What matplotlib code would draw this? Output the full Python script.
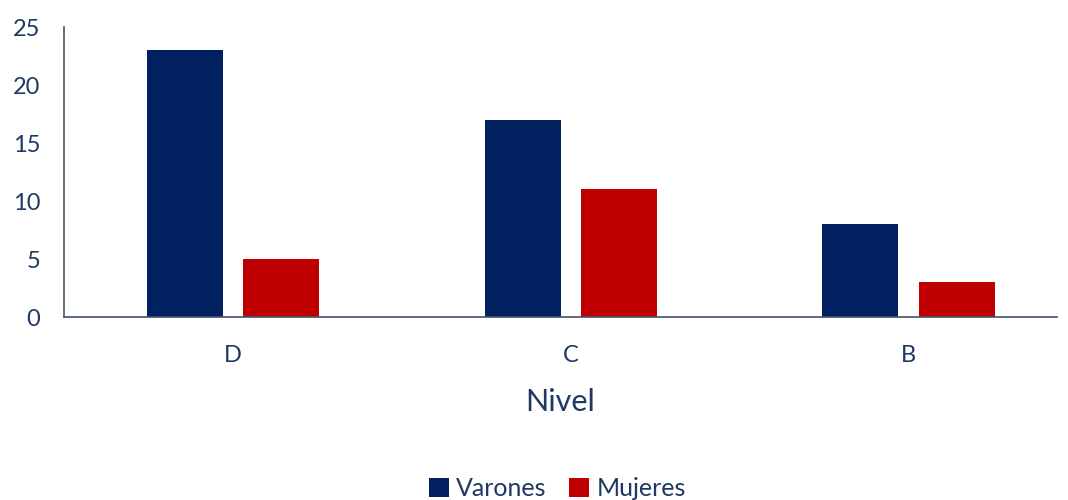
import numpy as np
import matplotlib.pyplot as plt

niveles = ['D', 'C', 'B']
varones = [23, 17, 8]
mujeres = [5, 11, 3]

azul = '#002060'
rojo = '#C00000'
texto = '#1F3864'

plt.rcParams['font.family'] = ['Lato', 'DejaVu Sans']

fig = plt.figure(figsize=(10.68, 5.0), dpi=100)
ax = fig.add_axes([0.0599, 0.366, 0.9298, 0.580])

x = np.arange(len(niveles))
w = 0.225
ax.bar(x - 0.142, varones, w, color=azul, label='Varones')
ax.bar(x + 0.143, mujeres, w, color=rojo, label='Mujeres')

ax.set_xlim(-0.5, 2.44)
ax.set_ylim(0, 25)
ax.set_yticks(range(0, 26, 5))
ax.set_xticks(x)
ax.set_xticklabels(niveles)
ax.tick_params(length=0, labelsize=17, labelcolor=texto)
ax.tick_params(axis='x', pad=20)
ax.tick_params(axis='y', pad=17)

for s in ['top', 'right']:
    ax.spines[s].set_visible(False)
for s in ['left', 'bottom']:
    ax.spines[s].set_color('#44546A')
    ax.spines[s].set_linewidth(1.2)

ax.set_xlabel('Nivel', fontsize=22, color=texto, labelpad=16)

fig.legend(loc='lower center', bbox_to_anchor=(0.522, -0.045), ncol=2, frameon=False,
           fontsize=18, labelcolor=texto, handlelength=0.8, handleheight=0.8,
           handletextpad=0.3, columnspacing=0.9)

fig.savefig('out.png', dpi=100)
